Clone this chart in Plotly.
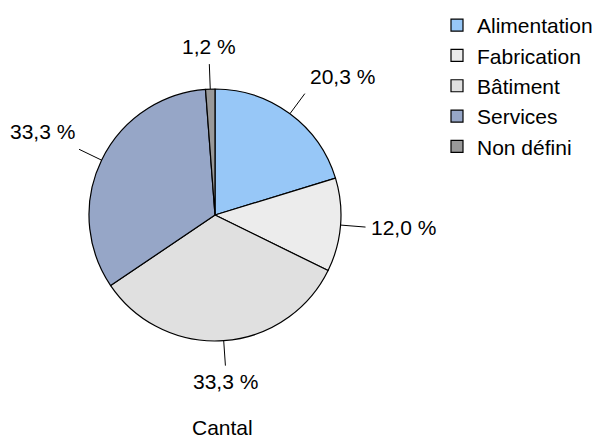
import math
import plotly.graph_objects as go

categories = ["Alimentation", "Fabrication", "Bâtiment", "Services", "Non défini"]
values = [20.3, 12.0, 33.3, 33.3, 1.2]
value_labels = ["20,3 %", "12,0 %", "33,3 %", "33,3 %", "1,2 %"]
colors = ["#97C7F7", "#ECECEC", "#E0E0E0", "#96A6C7", "#999999"]
title_text = "Cantal"

W, H = 598, 441
cx, cy, R = 215, 215, 126
FONT = "Liberation Sans, Arial, sans-serif"
FS = 21

fig = go.Figure(go.Pie(
    labels=categories, values=values, sort=False, direction="clockwise", rotation=0,
    marker=dict(colors=colors, line=dict(color="black", width=1.2)),
    textinfo="none", hoverinfo="label+percent",
    domain=dict(x=[(cx - R) / W, (cx + R) / W], y=[1 - (cy + R) / H, 1 - (cy - R) / H]),
))

total = sum(values)
cum = 0.0
shapes, annotations = [], []
for v, t in zip(values, value_labels):
    mid = (cum + v / 2) / total * 2 * math.pi
    cum += v
    dx, dy = math.sin(mid), -math.cos(mid)
    x0, y0 = cx + R * dx, cy + R * dy
    L = 25
    x1, y1 = cx + (R + L) * dx, cy + (R + L) * dy
    shapes.append(dict(type="line", xref="paper", yref="paper",
                       x0=x0 / W, y0=1 - y0 / H, x1=x1 / W, y1=1 - y1 / H,
                       line=dict(color="black", width=1)))
    xa = "left" if dx > 0.3 else ("right" if dx < -0.3 else "center")
    ya = "bottom" if dy < -0.3 else ("top" if dy > 0.3 else "middle")
    xs = 3 if xa == "left" else (-2 if xa == "right" else 0)
    ys = 4 if ya == "bottom" else (-2 if ya == "top" else 0)
    annotations.append(dict(x=x1 / W, y=1 - y1 / H, xref="paper", yref="paper", text=t,
                            showarrow=False, xanchor=xa, yanchor=ya, xshift=xs, yshift=ys,
                            font=dict(family=FONT, size=FS, color="black")))

annotations.append(dict(x=223 / W, y=0, xref="paper", yref="paper", text=title_text,
                        showarrow=False, xanchor="center", yanchor="bottom",
                        font=dict(family=FONT, size=FS, color="black")))

fig.update_layout(
    width=W, height=H, margin=dict(l=0, r=0, t=0, b=0),
    paper_bgcolor="white", plot_bgcolor="white",
    font=dict(family=FONT, size=FS, color="black"),
    shapes=shapes, annotations=annotations,
    legend=dict(x=437 / W, y=1 - 5 / H, xanchor="left", yanchor="top",
                font=dict(family=FONT, size=FS, color="black"),
                bgcolor="rgba(0,0,0,0)", borderwidth=0),
)
fig.write_html("out.html", config={"displayModeBar": False},
               post_script="document.body.style.margin='0';document.body.style.overflow='hidden';")
